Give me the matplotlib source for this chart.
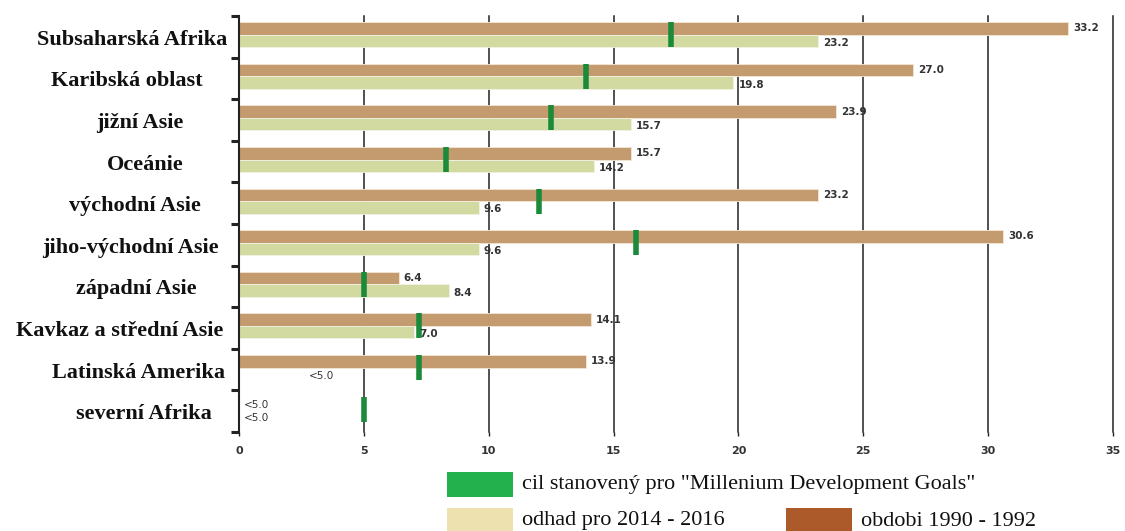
# Podvýživa podle regionů: období 1990-1992 vs. odhad 2014-2016

import matplotlib
matplotlib.use('Agg')
import matplotlib.pyplot as plt
import matplotlib.transforms as mtransforms
from matplotlib.patches import Rectangle
import numpy as np


# data ------------------------------------------------------------

regiony = ['Subsaharská Afrika', 'Karibská oblast', 'jižní Asie', 'Oceánie',
           'východní Asie', 'jiho-východní Asie', 'západní Asie',
           'Kavkaz a střední Asie', 'Latinská Amerika', 'severní Afrika']

# období 1990 - 1992 (None = <5.0)
obdobi_1990 = [33.2, 27.0, 23.9, 15.7, 23.2, 30.6, 6.4, 14.1, 13.9, None]
# odhad pro 2014 - 2016
odhad_2014 = [23.2, 19.8, 15.7, 14.2, 9.6, 9.6, 8.4, 7.0, None, None]
# cíl MDG
cil_mdg = [17.3, 13.9, 12.5, 8.3, 12.0, 15.9, 5.0, 7.2, 7.2, 5.0]

xticks = [0, 5, 10, 15, 20, 25, 30, 35]

c_hneda = '#C49A6F'
c_zelena = '#D3DAA1'
c_cil = '#1B8A3B'
serif = ['Liberation Serif', 'DejaVu Serif']

# středy popisků regionů (px od levého okraje obrázku)
popisek_x = [132, 127, 140, 145, 135, 130, 136, 120, 138, 144]


# graf ------------------------------------------------------------

fig = plt.figure(figsize=(11.25, 5.31), dpi=100)
ax = fig.add_axes([239 / 1125, 1 - 432 / 531, 874 / 1125, 416 / 531])

y = np.arange(len(regiony))
h = 0.30
off_h = -0.20
off_z = 0.10

for i in y:
    v1 = obdobi_1990[i]
    v2 = odhad_2014[i]
    if v1 is not None:
        ax.barh(i + off_h, v1, height=h, color=c_hneda, edgecolor='#F3E6D6',
                linewidth=0.6, zorder=2)
        ax.text(v1 + 0.2, i + off_h, f'{v1:.1f}', va='center', ha='left',
                fontsize=7.5, fontweight='bold', color='#333333', zorder=4)
    if v2 is not None:
        ax.barh(i + off_z, v2, height=h, color=c_zelena, edgecolor='#F1F3E2',
                linewidth=0.6, zorder=2)
        ax.text(v2 + 0.2, i + off_z + 0.05, f'{v2:.1f}', va='center', ha='left',
                fontsize=7.5, fontweight='bold', color='#333333', zorder=4)
    ax.plot([cil_mdg[i], cil_mdg[i]], [i + off_h - h / 2, i + off_z + h / 2],
            color=c_cil, lw=4, solid_capstyle='butt', zorder=3)

# hodnoty <5.0
ax.text(2.8, 8 + 0.15, '<5.0', va='center', ha='left', fontsize=7.5,
        color='#333333')
ax.text(0.2, 9 - 0.15, '<5.0', va='center', ha='left', fontsize=7.5,
        color='#333333')
ax.text(0.2, 9 + 0.17, '<5.0', va='center', ha='left', fontsize=7.5,
        color='#333333')

ax.set_xlim(0, 35)
ax.set_ylim(len(regiony) - 0.5, -0.5)

ax.set_xticks(xticks)
ax.set_xticklabels([str(t) for t in xticks], fontsize=8, fontweight='bold',
                   color='#333333')
ax.tick_params(axis='x', length=3, width=1, color='#222222', pad=7)
ax.grid(axis='x', color='#222222', lw=1.1, zorder=0)
ax.set_axisbelow(True)
for gl in ax.get_xgridlines():
    gl.set_clip_on(False)

# popisky regionů
ax.set_yticks([])
trans = mtransforms.blended_transform_factory(fig.transFigure, ax.transData)
for i, nazev in enumerate(regiony):
    ax.text(popisek_x[i] / 1125, i + 0.07, nazev, transform=trans,
            ha='center', va='center', family=serif, fontsize=16,
            fontweight='bold', color='#111111')
ax.set_yticks(np.arange(-0.5, len(regiony)), minor=True)
ax.tick_params(axis='y', which='minor', length=6, width=2.2, color='#222222')

for s in ['top', 'right', 'bottom']:
    ax.spines[s].set_visible(False)
ax.spines['left'].set_linewidth(1.5)
ax.spines['left'].set_color('#222222')

# legenda
leg = [(447, 472, '#22B14C', 'cil stanovený pro "Millenium Development Goals"'),
       (447, 508, '#EEE1B0', 'odhad pro 2014 - 2016'),
       (786, 508, '#AD5A2B', 'obdobi 1990 - 1992')]
for x0, y0, col, txt in leg:
    fig.patches.append(Rectangle((x0 / 1125, 1 - (y0 + 25) / 531), 66 / 1125,
                                 25 / 531, transform=fig.transFigure,
                                 facecolor=col, edgecolor='none'))
    fig.text((x0 + 75) / 1125, 1 - (y0 + 13) / 531, txt, va='center',
             ha='left', fontsize=16, family=serif, color='#111111')

fig.savefig('out.png', dpi=100)
